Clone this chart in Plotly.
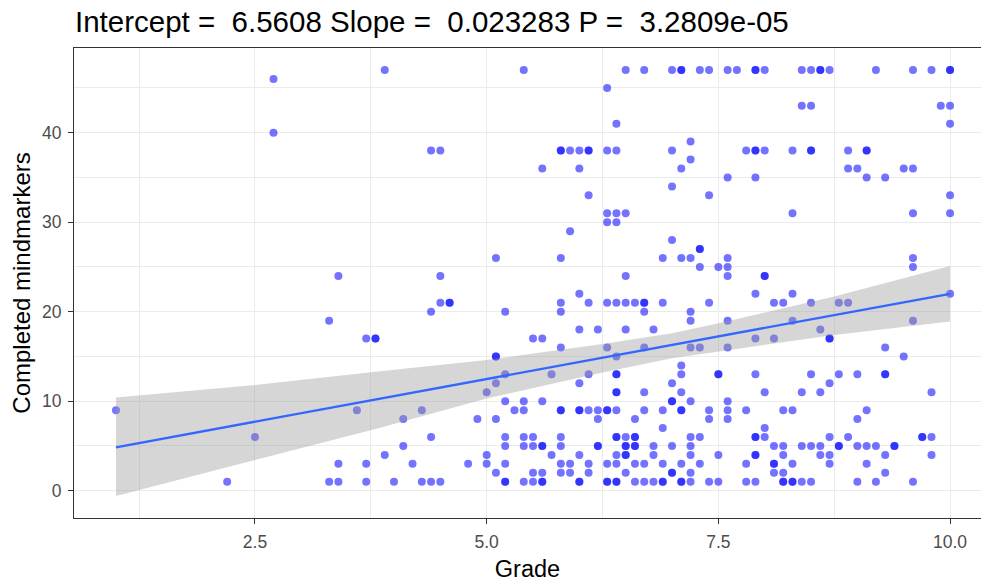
import plotly.graph_objects as go

# ---- data ----
grade = [
    2.7, 2.7, 3.4, 3.9, 5.4, 6.5, 6.7, 7.0, 7.1, 7.1,
    6.3, 6.4, 4.4, 4.5, 5.8, 5.8, 5.9, 6.0, 6.1, 6.1, 6.3, 6.4, 7.0,
    5.6, 6.0, 7.0, 6.1, 6.3, 6.4, 6.5, 6.3, 6.4, 5.9, 7.0,
    5.1, 5.8, 6.9, 4.5, 6.5,
    7.3, 7.4, 7.6, 7.7, 7.9, 7.9, 8.0, 8.4, 8.5, 8.6, 8.6, 8.7, 9.2, 9.6, 9.8, 10.0, 10.0,
    8.4, 8.5, 9.9, 10.0, 10.0,
    7.8, 7.9, 7.9, 8.0, 8.3, 8.5, 8.5, 8.9, 9.1, 9.1,
    7.2, 7.2, 7.1, 8.9, 9.0, 9.5, 9.6,
    7.6, 7.9, 9.1, 9.3, 7.4, 10.0, 8.3, 9.6, 10.0,
    7.3, 7.3, 7.1, 7.2, 7.6, 9.6, 7.3, 7.5, 7.6, 9.6, 7.6, 8.0, 8.0,
    3.3, 3.7, 3.8, 3.8, 1.0, 2.5, 3.6, 2.2, 3.4, 3.7, 3.3, 3.4, 3.7,
    6.0, 4.5, 4.6, 4.6, 4.4, 5.2, 5.8, 5.8, 6.1, 6.3, 6.4, 6.5, 6.6, 6.7, 6.7, 6.9, 6.7,
    6.0, 6.2, 6.5, 6.8, 5.5, 5.6, 5.8, 6.3, 6.7, 5.1, 5.1, 6.4,
    5.2, 5.7, 6.1, 6.4, 6.4, 5.1, 6.0, 7.0, 5.0, 6.4, 6.4, 6.7,
    5.2, 5.4, 5.6, 7.0, 7.0,
    4.3, 5.3, 5.4, 5.8, 5.8, 6.0, 6.0, 6.1, 6.2, 6.3, 6.3, 6.4, 6.7, 6.9,
    4.1, 4.9, 5.1, 6.2, 6.6, 6.9,
    4.4, 5.2, 5.4, 5.5, 5.8, 6.4, 6.4, 6.5, 6.6, 6.6,
    4.1, 5.2, 5.4, 5.5, 5.6, 5.6, 5.8, 6.2, 6.2, 6.5, 6.5, 6.6, 6.6, 6.8, 7.0,
    3.9, 5.0, 5.7, 6.0, 6.4, 6.5, 6.5, 6.8,
    4.2, 4.8, 5.0, 5.2, 5.8, 5.9, 6.1, 6.3, 6.4, 6.6, 6.7, 6.9,
    5.1, 5.5, 5.6, 5.8, 5.9, 6.1, 6.5, 7.0, 7.0,
    4.0, 4.3, 4.4, 4.5, 5.2, 5.2, 5.4, 5.5, 5.6, 5.6, 6.0, 6.0, 6.3, 6.3, 6.4, 6.4, 6.6, 6.7, 6.8, 6.9, 6.9,
    7.9, 8.3, 10.0, 7.4, 8.1, 8.2, 8.5, 8.8, 8.9,
    7.2, 7.2, 7.6, 8.3, 9.6, 8.6, 7.9, 8.1, 8.7, 8.7,
    7.2, 7.3, 7.6, 9.3, 9.5, 7.1,
    7.1, 7.5, 7.5, 7.9, 8.5, 8.8, 9.0, 9.3, 9.3, 8.7,
    7.1, 8.0, 8.4, 8.6, 9.8, 7.2, 7.6,
    7.1, 7.1, 7.4, 7.6, 7.8, 8.2, 8.3, 9.1,
    7.4, 7.6, 9.0, 8.0,
    7.2, 7.3, 7.9, 7.9, 8.0, 8.7, 8.9, 9.7, 9.7, 9.8,
    7.2, 8.1, 8.2, 8.4, 8.5, 8.6, 8.8, 8.8, 9.0, 9.1, 9.2, 9.4, 9.4,
    7.2, 7.5, 7.9, 7.9, 8.2, 8.6, 8.7, 9.3, 9.8,
    7.1, 7.3, 7.8, 8.1, 8.1, 8.3, 8.7, 9.1,
    7.2, 8.1, 8.2, 9.3,
    7.1, 7.1, 7.2, 7.4, 7.5, 7.8, 7.9, 8.2, 8.2, 8.3, 8.3, 8.4, 8.5, 9.0, 9.2, 9.6,
]

completed = [
    46, 40, 24, 47, 47, 47, 47, 47, 47, 47,
    45, 41, 38, 38, 38, 38, 38, 38, 38, 38, 38, 38, 38,
    36, 36, 34, 33, 31, 31, 31, 30, 30, 29, 28,
    26, 26, 26, 24, 24,
    47, 47, 47, 47, 47, 47, 47, 47, 47, 47, 47, 47, 47, 47, 47, 47, 47,
    43, 43, 43, 43, 41,
    38, 38, 38, 38, 38, 38, 38, 38, 38, 38,
    39, 37, 36, 36, 36, 36, 36,
    35, 35, 35, 35, 33, 33, 31, 31, 31,
    27, 27, 26, 26, 26, 26, 25, 25, 25, 25, 24, 24, 24,
    19, 17, 17, 17, 9, 6, 9, 1, 3, 3, 1, 1, 1,
    22, 21, 21, 21, 20, 20, 21, 20, 21, 21, 21, 21, 21, 21, 21, 21, 20,
    18, 18, 18, 18, 17, 17, 16, 16, 16, 15, 15, 15,
    13, 13, 13, 13, 13, 12, 12, 12, 11, 11, 11, 11,
    10, 10, 10, 10, 10,
    9, 9, 9, 9, 9, 9, 9, 9, 9, 9, 9, 9, 9, 9,
    8, 8, 8, 8, 8, 7,
    6, 6, 6, 6, 6, 6, 6, 6, 6, 6,
    5, 5, 5, 5, 5, 5, 5, 5, 5, 5, 5, 5, 5, 5, 5,
    4, 4, 4, 4, 4, 4, 4, 4,
    3, 3, 3, 3, 3, 3, 3, 3, 3, 3, 3, 3,
    2, 2, 2, 2, 2, 2, 2, 2, 2,
    1, 1, 1, 1, 1, 1, 1, 1, 1, 1, 1, 1, 1, 1, 1, 1, 1, 1, 1, 1, 1,
    22, 22, 22, 21, 21, 21, 21, 21, 21,
    20, 19, 19, 19, 19, 18, 17, 17, 17, 17,
    16, 16, 16, 16, 15, 14,
    13, 13, 13, 13, 13, 13, 13, 13, 13, 12,
    11, 11, 11, 11, 11, 10, 10,
    9, 9, 9, 9, 9, 9, 9, 9,
    8, 8, 8, 7,
    6, 6, 6, 6, 6, 6, 6, 6, 6, 6,
    5, 5, 5, 5, 5, 5, 5, 5, 5, 5, 5, 5, 5,
    4, 4, 4, 4, 4, 4, 4, 4, 4,
    3, 3, 3, 3, 3, 3, 3, 3,
    2, 2, 2, 2,
    1, 1, 1, 1, 1, 1, 1, 1, 1, 1, 1, 1, 1, 1, 1, 1,
]
assert len(grade) == len(completed)

# linear smoother (geom_smooth, method = lm)
smooth_x = [1.0, 10.0]
smooth_fit = [4.85, 22.0]
band_x = [1.0, 2.5, 3.8, 5.0, 6.25, 7.0, 7.5, 8.75, 10.0]
band_lower = [-0.6, 3.4, 6.9, 10.3, 13.2, 14.8, 15.6, 17.4, 18.9]
band_upper = [10.4, 11.8, 13.3, 14.6, 16.4, 17.6, 18.7, 21.7, 25.1]

title_text = "Intercept =  6.5608 Slope =  0.023283 P =  3.2809e-05"
x_title = "Grade"
y_title = "Completed mindmarkers"

FONT = "Liberation Sans, Arial, sans-serif"

fig = go.Figure()
fig.add_trace(go.Scatter(
    x=grade, y=completed, mode="markers",
    marker=dict(size=8, color="rgba(0,0,255,0.55)", line=dict(width=0)),
    showlegend=False, hoverinfo="x+y"))
fig.add_trace(go.Scatter(
    x=band_x + band_x[::-1], y=band_upper + band_lower[::-1],
    fill="toself", fillcolor="rgba(153,153,153,0.4)",
    line=dict(width=0), mode="lines", showlegend=False, hoverinfo="skip"))
fig.add_trace(go.Scatter(
    x=smooth_x, y=smooth_fit, mode="lines",
    line=dict(color="#3366FF", width=2.3), showlegend=False))

axis_common = dict(
    showgrid=True, gridcolor="#EBEBEB", gridwidth=1.3,
    zeroline=False, showline=True, linecolor="#333333", linewidth=1.2,
    ticks="outside", ticklen=5, tickwidth=1.2, tickcolor="#333333",
    tickfont=dict(family=FONT, size=17.5, color="#4D4D4D"),
    automargin=False,
)

fig.update_layout(
    width=981, height=582,
    margin=dict(l=74, r=0, t=48, b=64),
    paper_bgcolor="white", plot_bgcolor="white",
    font=dict(family=FONT),
    title=dict(text=title_text, font=dict(family=FONT, size=29.5, color="black"),
               xref="container", x=75/981, xanchor="left",
               yref="container", y=1-22/582, yanchor="middle"),
    xaxis=dict(range=[0.547, 10.334], tick0=0, dtick=2.5, tickformat=".1f",
               mirror=True, ticklabelstandoff=3,
               minor=dict(dtick=1.25, tick0=0, showgrid=True, gridcolor="#EBEBEB", gridwidth=0.7),
               title=dict(text=x_title, font=dict(family=FONT, size=23.5, color="black"), standoff=10),
               **axis_common),
    yaxis=dict(range=[-3.05, 49.46], tick0=0, dtick=10,
               mirror=False, ticklabelstandoff=3,
               minor=dict(dtick=5, tick0=0, showgrid=True, gridcolor="#EBEBEB", gridwidth=0.7),
               title=dict(text=y_title, font=dict(family=FONT, size=24, color="black"), standoff=4),
               **axis_common),
)

fig.write_html(
    "out.html",
    config={"displayModeBar": False},
    post_script="document.body.style.margin='0';document.body.style.overflow='hidden';",
)
